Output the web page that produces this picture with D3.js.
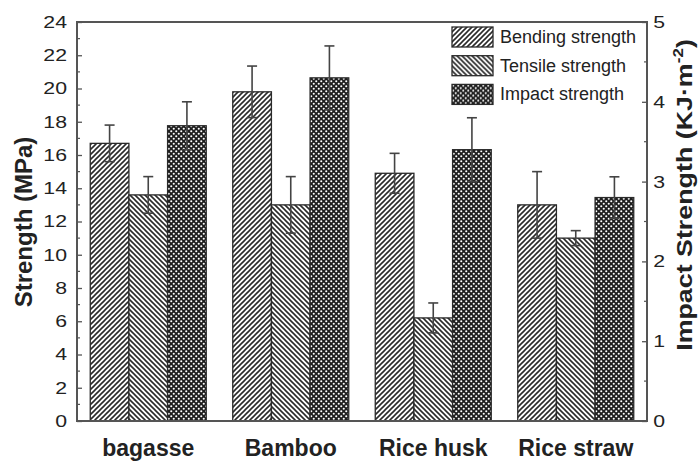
<!DOCTYPE html>
<html><head><meta charset="utf-8">
<script src="https://cdn.jsdelivr.net/npm/d3@7"></script>
<style>body{margin:0;background:#fff;}svg{display:block;font-family:"Liberation Sans",Arial,sans-serif;}</style>
</head><body><svg id="c" width="699" height="463"></svg>
<script>
const categories = ["bagasse", "Bamboo", "Rice husk", "Rice straw"];
const seriesNames = ["Bending strength", "Tensile strength", "Impact strength"];
const bending = [16.7, 19.8, 14.9, 13.0];
const bendingErr = [1.1, 1.55, 1.2, 2.0];
const tensile = [13.6, 13.0, 6.2, 11.0];
const tensileErr = [1.1, 1.7, 0.9, 0.45];
const impact = [3.7, 4.3, 3.4, 2.8];      // KJ·m^-2 (right axis)
const impactErr = [0.3, 0.4, 0.4, 0.26];
const leftTicks = [0,2,4,6,8,10,12,14,16,18,20,22,24];
const rightTicks = [0,1,2,3,4,5];

const svg = d3.select("#c");
const L = 77, R = 647, T = 22, B = 421;
const y = d3.scaleLinear().domain([0,24]).range([B,T]);
const y2 = d3.scaleLinear().domain([0,5]).range([B,T]);
const x0 = d3.scaleBand().domain(categories).range([L,R]).paddingInner(0.186).paddingOuter(0.093);
const x1 = d3.scaleBand().domain(seriesNames).range([0,x0.bandwidth()]);
const ink = "#2a2a2a";

const defs = svg.append("defs");
function hatch(id, dir){
  const p = defs.append("pattern").attr("id",id).attr("patternUnits","userSpaceOnUse")
    .attr("width",5).attr("height",5);
  p.append("rect").attr("width",5).attr("height",5).attr("fill","#fff");
  const d = dir>0 ? "M-1,1 l2,-2 M0,5 l5,-5 M4,6 l2,-2" : "M-1,4 l2,2 M0,0 l5,5 M4,-1 l2,2";
  p.append("path").attr("d",d).attr("stroke",ink).attr("stroke-width",1.6);
}
hatch("hb",1); hatch("ht",-1);
const pi = defs.append("pattern").attr("id","hi").attr("patternUnits","userSpaceOnUse").attr("width",5).attr("height",5);
pi.append("rect").attr("width",5).attr("height",5).attr("fill","#1e1e1e");
pi.append("circle").attr("cx",1.25).attr("cy",1.25).attr("r",1.05).attr("fill","#fff");
pi.append("circle").attr("cx",3.75).attr("cy",3.75).attr("r",1.05).attr("fill","#fff");
const fills = {"Bending strength":"url(#hb)","Tensile strength":"url(#ht)","Impact strength":"url(#hi)"};

const rows = [];
categories.forEach((c,i)=>{
  rows.push({c, s:seriesNames[0], top:y(bending[i]), hi:y(bending[i]+bendingErr[i]), lo:y(bending[i]-bendingErr[i])});
  rows.push({c, s:seriesNames[1], top:y(tensile[i]), hi:y(tensile[i]+tensileErr[i]), lo:y(tensile[i]-tensileErr[i])});
  rows.push({c, s:seriesNames[2], top:y2(impact[i]), hi:y2(impact[i]+impactErr[i]), lo:y2(impact[i]-impactErr[i])});
});
const g = svg.append("g");
g.selectAll("rect.bar").data(rows).join("rect").attr("class","bar")
  .attr("x",d=>x0(d.c)+x1(d.s)).attr("width",x1.bandwidth())
  .attr("y",d=>d.top).attr("height",d=>B-d.top)
  .attr("fill",d=>fills[d.s]).attr("stroke",ink).attr("stroke-width",1.3);
const eb = g.selectAll("g.eb").data(rows).join("g").attr("class","eb")
  .attr("transform",d=>`translate(${x0(d.c)+x1(d.s)+x1.bandwidth()/2},0)`);
eb.append("line").attr("y1",d=>d.hi).attr("y2",d=>d.lo).attr("stroke","#444").attr("stroke-width",1.6);
eb.append("line").attr("x1",-5).attr("x2",5).attr("y1",d=>d.hi).attr("y2",d=>d.hi).attr("stroke","#444").attr("stroke-width",1.6);
eb.append("line").attr("x1",-5).attr("x2",5).attr("y1",d=>d.lo).attr("y2",d=>d.lo).attr("stroke","#444").attr("stroke-width",1.6);

// frame
svg.append("rect").attr("x",L).attr("y",T).attr("width",R-L).attr("height",B-T)
  .attr("fill","none").attr("stroke","#555").attr("stroke-width",2);

// left axis
const la = svg.append("g").attr("transform",`translate(${L},0)`)
  .call(d3.axisLeft(y).tickValues(leftTicks).tickSize(-5).tickPadding(0));
la.select(".domain").remove();
la.selectAll("line").attr("stroke","#555").attr("stroke-width",1.3);
la.selectAll("text").attr("x",-8).attr("transform","scale(1.25,1)")
  .attr("font-size",17).attr("fill","#222").attr("font-family","Liberation Sans, Arial, sans-serif");
const minorL = d3.range(1,24,2);
svg.append("g").selectAll("line").data(minorL).join("line")
  .attr("x1",L).attr("x2",L+3).attr("y1",d=>y(d)).attr("y2",d=>y(d)).attr("stroke","#555").attr("stroke-width",1.2);

// right axis
const ra = svg.append("g").attr("transform",`translate(${R},0)`)
  .call(d3.axisRight(y2).tickValues(rightTicks).tickFormat(d3.format("d")).tickSize(-5).tickPadding(0));
ra.select(".domain").remove();
ra.selectAll("line").attr("stroke","#555").attr("stroke-width",1.3);
ra.selectAll("text").attr("x",5).attr("transform","scale(1.25,1)")
  .attr("font-size",17).attr("fill","#222").attr("font-family","Liberation Sans, Arial, sans-serif");
svg.append("g").selectAll("line").data(d3.range(0.5,5,1)).join("line")
  .attr("x1",R).attr("x2",R-3).attr("y1",d=>y2(d)).attr("y2",d=>y2(d)).attr("stroke","#555").attr("stroke-width",1.2);

// x axis labels
svg.append("g").selectAll("text").data(categories).join("text")
  .attr("x",d=>x0(d)+x0.bandwidth()/2).attr("y",456).attr("text-anchor","middle")
  .attr("font-size",23).attr("font-weight","bold").attr("fill","#222").text(d=>d);

// axis titles
svg.append("text").attr("transform","translate(32,222) rotate(-90)").attr("text-anchor","middle")
  .attr("font-size",24).attr("font-weight","bold").attr("fill","#222").text("Strength (MPa)");
const rt = svg.append("text").attr("transform","translate(692,195) rotate(-90) scale(1.22,1)").attr("text-anchor","middle")
  .attr("font-size",22).attr("font-weight","bold").attr("fill","#222");
rt.append("tspan").text("Impact Strength (KJ·m");
rt.append("tspan").attr("dy",-9).attr("font-size",14).text("-2");
rt.append("tspan").attr("dy",9).text(")");

// legend
const lg = svg.append("g").selectAll("g").data(seriesNames).join("g")
  .attr("transform",(d,i)=>`translate(452,${27+i*28.7})`);
lg.append("rect").attr("width",41).attr("height",20).attr("fill",d=>fills[d]).attr("stroke",ink).attr("stroke-width",1.3);
lg.append("text").attr("x",48).attr("y",16).attr("font-size",18).attr("fill","#222").text(d=>d);
</script></body></html>
